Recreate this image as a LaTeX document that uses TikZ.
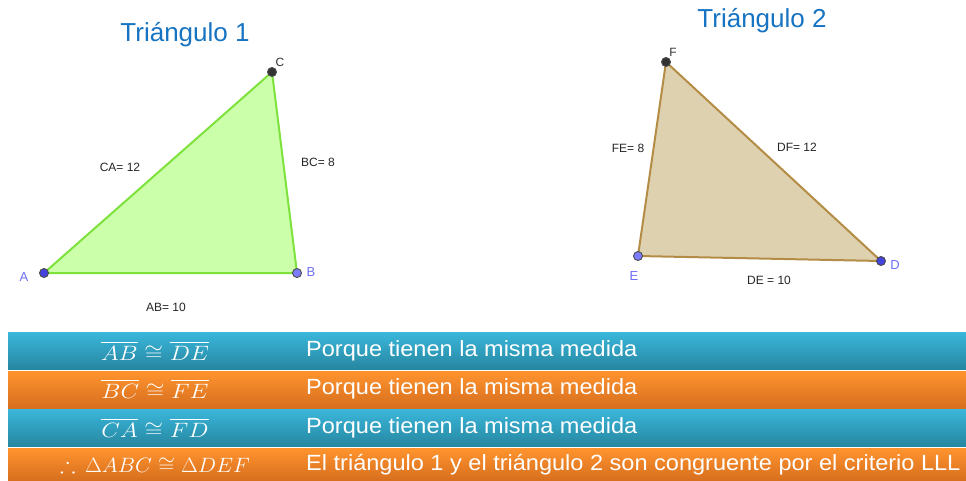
\documentclass[tikz,border=0pt]{standalone}
\usepackage{fontspec}
\setmainfont{Liberation Sans}
\usepackage{amssymb}
\usepackage{graphicx}
\definecolor{titleblue}{RGB}{22,116,194}
\definecolor{greenfill}{RGB}{204,255,170}
\definecolor{greenline}{RGB}{125,226,60}
\definecolor{tanfill}{RGB}{222,209,175}
\definecolor{tanline}{RGB}{180,140,70}
\definecolor{ptdark}{RGB}{68,68,220}
\definecolor{ptlight}{RGB}{124,124,255}
\definecolor{ptlabel}{RGB}{110,110,245}
\definecolor{ptblack}{RGB}{50,50,50}
\definecolor{bluetop}{RGB}{58,182,218}
\definecolor{bluebot}{RGB}{38,134,160}
\definecolor{orangetop}{RGB}{255,148,46}
\definecolor{orangebot}{RGB}{214,110,30}
\tikzset{
  title/.style={text=titleblue,font=\fontsize{26}{30}\selectfont,inner sep=0pt},
  edgelab/.style={text=black!85,font=\fontsize{12}{14}\selectfont,inner sep=0pt},
  ptlab/.style={text=ptlabel,font=\fontsize{13}{15}\selectfont,inner sep=0pt},
  ptlabk/.style={text=ptblack,font=\fontsize{12}{14}\selectfont,inner sep=0pt},
  pt/.style={circle,minimum size=9pt,inner sep=0pt,draw=black!70,line width=0.9pt,fill=#1},
  tri1/.style={fill=greenfill,draw=greenline,line width=2pt,line join=round},
  tri2/.style={fill=tanfill,draw=tanline,line width=2pt,line join=round},
  rowblue/.style={top color=bluetop,bottom color=bluebot},
  roworange/.style={top color=orangetop,bottom color=orangebot},
  mathtxt/.style={text=white,font=\fontsize{22}{26}\selectfont,inner sep=0pt},
  rowtxt/.style={text=white,font=\fontsize{22}{26}\selectfont,inner sep=0pt,anchor=west},
}
\begin{document}
\begin{tikzpicture}[x=1pt,y=-1pt]
\useasboundingbox (0,0) rectangle (966,480);
\fill[white] (0,0) rectangle (966,480);
% titles
\node[title] (t1) at (185,35) {Triángulo 1};
\node[title] (t2) at (762,21) {Triángulo 2};
% triangle 1
\coordinate (A) at (44,273);
\coordinate (B) at (297,273);
\coordinate (C) at (272,72);
\filldraw[tri1] (A) -- (B) -- (C) -- cycle;
\node[pt=ptdark] (pA) at (A) {};
\node[pt=ptlight] (pB) at (B) {};
\node[pt=ptblack] (pC) at (C) {};
\node[ptlab] (lA) at (24,277) {A};
\node[ptlab] (lB) at (311,272) {B};
\node[ptlabk] (lC) at (280,62) {C};
\node[edgelab] (lCA) at (120,167) {CA= 12};
\node[edgelab] (lBC) at (318,162) {BC= 8};
\node[edgelab] (lAB) at (166,307) {AB= 10};
% triangle 2
\coordinate (F) at (666,62);
\coordinate (E) at (638,256);
\coordinate (D) at (881,261);
\filldraw[tri2] (E) -- (D) -- (F) -- cycle;
\node[pt=ptlight] (pE) at (E) {};
\node[pt=ptdark] (pD) at (D) {};
\node[pt=ptblack] (pF) at (F) {};
\node[ptlabk] (lF) at (673,52) {F};
\node[ptlab] (lE) at (634,276) {E};
\node[ptlab] (lD) at (895,265) {D};
\node[edgelab] (lFE) at (628,148) {FE= 8};
\node[edgelab] (lDF) at (797,147) {DF= 12};
\node[edgelab] (lDE) at (769,280) {DE = 10};
% rows
\shade[rowblue] (8,332.5) rectangle (966,369.5);
\shade[roworange] (8,371) rectangle (966,408);
\shade[rowblue] (8,409.5) rectangle (966,446.5);
\shade[roworange] (8,448) rectangle (966,481);
\node[mathtxt] (m1) at (155,351) {\scalebox{1.16}[1]{$\overline{AB}\cong\overline{DE}$}};
\node[mathtxt] (m2) at (155,389) {\scalebox{1.16}[1]{$\overline{BC}\cong\overline{FE}$}};
\node[mathtxt] (m3) at (155,428) {\scalebox{1.16}[1]{$\overline{CA}\cong\overline{FD}$}};
\node[mathtxt] (m4) at (155,465) {\scalebox{1.05}[1]{$\therefore\,\Delta ABC\cong\Delta DEF$}};
\node[rowtxt] (s1) at (306,351) {\scalebox{1.07}[1]{Porque tienen la misma medida}};
\node[rowtxt] (s2) at (306,389) {\scalebox{1.07}[1]{Porque tienen la misma medida}};
\node[rowtxt] (s3) at (306,428) {\scalebox{1.07}[1]{Porque tienen la misma medida}};
\node[rowtxt] (s4) at (306,465) {\scalebox{1.07}[1]{El triángulo 1 y el triángulo 2 son congruente por el criterio LLL}};
\end{tikzpicture}
\end{document}
